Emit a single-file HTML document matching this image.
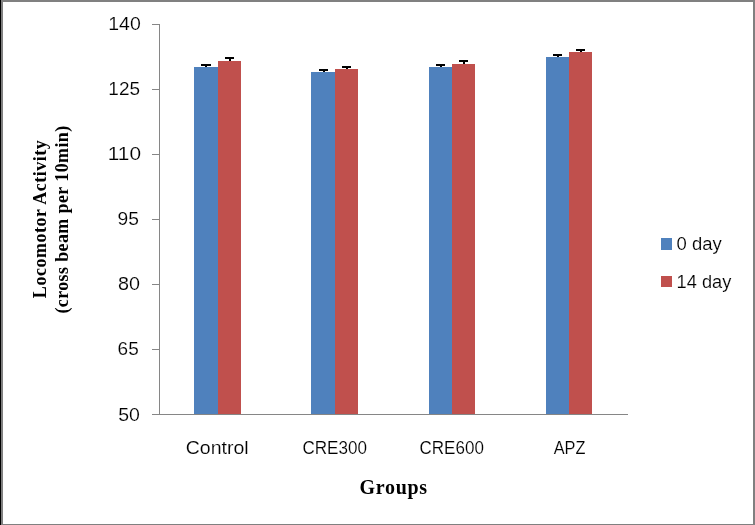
<!DOCTYPE html>
<html><head><meta charset="utf-8">
<style>
html,body{margin:0;padding:0;background:#fff;}
body{width:755px;height:525px;overflow:hidden;position:relative;}
svg{position:absolute;left:0;top:0;display:block;will-change:transform;}
.ax{font-family:"Liberation Sans",sans-serif;fill:#000;stroke:#fff;stroke-width:0.15px;}
.tt{font-family:"Liberation Serif",serif;font-weight:bold;fill:#000;}
</style></head>
<body>
<svg width="755" height="525" viewBox="0 0 755 525">
<rect x="0" y="0" width="755" height="525" fill="#808080"/>
<rect x="0" y="0" width="1" height="525" fill="#000"/>
<rect x="3" y="2" width="750" height="522" fill="#fff"/>
<g shape-rendering="crispEdges">
<rect x="194" y="67" width="24" height="347" fill="#4F81BD"/>
<rect x="218" y="61" width="23" height="353" fill="#C0504D"/>
<rect x="311" y="72" width="24" height="342" fill="#4F81BD"/>
<rect x="335" y="69" width="23" height="345" fill="#C0504D"/>
<rect x="429" y="67" width="23" height="347" fill="#4F81BD"/>
<rect x="452" y="64" width="23" height="350" fill="#C0504D"/>
<rect x="546" y="57" width="23" height="357" fill="#4F81BD"/>
<rect x="569" y="52" width="23" height="362" fill="#C0504D"/>
</g>
<g fill="#000" shape-rendering="crispEdges">
<rect x="201" y="64" width="10" height="2"/><rect x="205" y="66" width="2" height="1"/>
<rect x="225" y="57" width="9" height="2"/><rect x="229" y="59" width="2" height="2"/>
<rect x="319" y="69" width="9" height="2"/><rect x="323" y="71" width="2" height="1"/>
<rect x="342" y="66" width="9" height="2"/><rect x="346" y="68" width="2" height="1"/>
<rect x="436" y="64" width="9" height="2"/><rect x="440" y="66" width="2" height="1"/>
<rect x="459" y="60" width="9" height="2"/><rect x="463" y="62" width="2" height="2"/>
<rect x="553" y="54" width="9" height="2"/><rect x="557" y="56" width="2" height="1"/>
<rect x="576" y="49" width="9" height="2"/><rect x="580" y="51" width="2" height="1"/>
</g>
<g fill="#868686" shape-rendering="crispEdges">
<rect x="159" y="24" width="1" height="391"/>
<rect x="152" y="414" width="476" height="1"/>
<rect x="152" y="24" width="7" height="1"/>
<rect x="152" y="89" width="7" height="1"/>
<rect x="152" y="154" width="7" height="1"/>
<rect x="152" y="219" width="7" height="1"/>
<rect x="152" y="284" width="7" height="1"/>
<rect x="152" y="349" width="7" height="1"/>
</g>
<rect x="661" y="238" width="11" height="12" fill="#4F81BD" shape-rendering="crispEdges"/>
<rect x="661" y="276" width="11" height="11" fill="#C0504D" shape-rendering="crispEdges"/>
<text class="ax" font-size="18.00" x="108.24" y="29.60" textLength="32.51" lengthAdjust="spacingAndGlyphs">140</text>
<text class="ax" font-size="18.00" x="108.34" y="94.60" textLength="31.69" lengthAdjust="spacingAndGlyphs">125</text>
<text class="ax" font-size="18.00" x="107.79" y="159.60" textLength="33.21" lengthAdjust="spacingAndGlyphs">110</text>
<text class="ax" font-size="18.00" x="117.47" y="224.60" textLength="21.42" lengthAdjust="spacingAndGlyphs">95</text>
<text class="ax" font-size="18.00" x="118.14" y="289.60" textLength="21.97" lengthAdjust="spacingAndGlyphs">80</text>
<text class="ax" font-size="18.00" x="117.61" y="354.60" textLength="21.15" lengthAdjust="spacingAndGlyphs">65</text>
<text class="ax" font-size="18.00" x="118.28" y="420.80" textLength="21.70" lengthAdjust="spacingAndGlyphs">50</text>
<text class="ax" font-size="18.00" x="185.76" y="453.80" textLength="62.97" lengthAdjust="spacingAndGlyphs">Control</text>
<text class="ax" font-size="18.00" x="302.41" y="453.80" textLength="64.57" lengthAdjust="spacingAndGlyphs">CRE300</text>
<text class="ax" font-size="18.00" x="419.55" y="453.80" textLength="64.30" lengthAdjust="spacingAndGlyphs">CRE600</text>
<text class="ax" font-size="18.00" x="553.63" y="453.80" textLength="31.76" lengthAdjust="spacingAndGlyphs">APZ</text>
<text class="tt" font-size="20.00" x="359.55" y="494.00" textLength="67.50" lengthAdjust="spacing">Groups</text>
<text class="ax" font-size="18.00" x="676.63" y="250.00" textLength="45.20" lengthAdjust="spacingAndGlyphs">0 day</text>
<text class="ax" font-size="18.00" x="676.60" y="288.00" textLength="54.71" lengthAdjust="spacingAndGlyphs">14 day</text>
<g transform="translate(0,218.15) rotate(-90)"><text class="tt" font-size="18.00" x="-80.00" y="46.45" textLength="157.91" lengthAdjust="spacing">Locomotor Activity</text></g>
<g transform="translate(0,218.60) rotate(-90)"><text class="tt" font-size="18.00" x="-95.00" y="67.55" textLength="187.81" lengthAdjust="spacing">(cross beam per 10min)</text></g>
</svg>
</body></html>
